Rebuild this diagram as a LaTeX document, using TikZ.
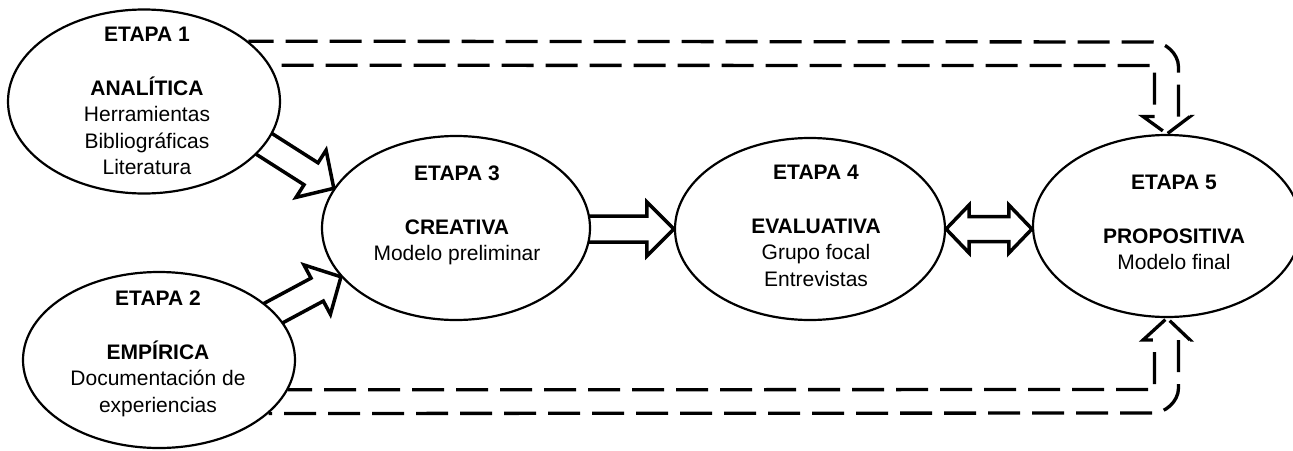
\documentclass[tikz,border=0pt]{standalone}
\usepackage{fontspec}
\setmainfont{Liberation Sans}
\usetikzlibrary{shapes.geometric,calc}
\pgfdeclarelayer{bg}
\pgfsetlayers{bg,main}
% #1 tail, #2 tip, #3 half shaft width, #4 half head width, #5 head length
\newcommand\blockarrow[5]{%
  \path (#2) coordinate (ba-t) (#1) coordinate (ba-s) ($(ba-t)!#5!(ba-s)$) coordinate (ba-n);
  \draw[blk] ($(ba-s)!#3!90:(ba-t)$) -- ($(ba-n)!#3!90:(ba-t)$) -- ($(ba-n)!#4!90:(ba-t)$)
    -- (ba-t) -- ($(ba-n)!#4!-90:(ba-t)$) -- ($(ba-n)!#3!-90:(ba-t)$) -- ($(ba-s)!#3!-90:(ba-t)$);
}
% #1 tip a, #2 tip b, #3 half shaft, #4 half head, #5 head length
\newcommand\dblarrow[5]{%
  \path (#1) coordinate (da-a) (#2) coordinate (da-b)
    ($(da-a)!#5!(da-b)$) coordinate (da-na) ($(da-b)!#5!(da-a)$) coordinate (da-nb);
  \draw[blk] (da-a) -- ($(da-na)!#4!90:(da-b)$) -- ($(da-na)!#3!90:(da-b)$)
    -- ($(da-nb)!#3!-90:(da-a)$) -- ($(da-nb)!#4!-90:(da-a)$) -- (da-b)
    -- ($(da-nb)!#4!90:(da-a)$) -- ($(da-nb)!#3!90:(da-a)$)
    -- ($(da-na)!#3!-90:(da-b)$) -- ($(da-na)!#4!-90:(da-b)$) -- cycle;
}
\begin{document}
\begin{tikzpicture}[x=1pt,y=-1pt,
  stage/.style={ellipse, draw, line width=2.2pt, fill=white, inner sep=0pt},
  txt/.style={anchor=north, inner sep=0pt, align=center, font=\fontsize{21}{26.5}\selectfont},
  blk/.style={line width=3.5pt, line join=miter},
  dsh/.style={line width=3.3pt, dash pattern=on 32pt off 12pt},
  dhead/.style={line width=3.3pt, dash pattern=on 28pt off 6pt on 40pt off 11.5pt, dash phase=74pt}]
\useasboundingbox (0,0) rectangle (1293,450);
\clip (0,0) rectangle (1293,450);

% stages
\node[stage, minimum width=272pt, minimum height=184pt] (e1) at (144,101.5) {};
\node[stage, minimum width=272pt, minimum height=176pt] (e2) at (159,360) {};
\node[stage, minimum width=268pt, minimum height=184pt] (e3) at (456,228) {};
\node[stage, minimum width=270pt, minimum height=182pt] (e4) at (810,229) {};
\node[stage, minimum width=268pt, minimum height=182pt] (e5) at (1167,226) {};

% texts
\node[txt] (t1) at ($(e1.center)+(3,-74.5)$) {\textbf{ETAPA 1}\\[27pt]\textbf{ANALÍTICA}\\Herramientas\\Bibliográficas\\Literatura};
\node[txt] (t2) at ($(e2.center)+(-1,-69)$) {\textbf{ETAPA 2}\\[27pt]\textbf{EMPÍRICA}\\Documentación de\\experiencias};
\node[txt] (t3) at ($(e3.center)+(1,-62.3)$) {\textbf{ETAPA 3}\\[27pt]\textbf{CREATIVA}\\Modelo preliminar};
\node[txt] (t4) at ($(e4.center)+(6,-64)$) {\textbf{ETAPA 4}\\[27pt]\textbf{EVALUATIVA}\\Grupo focal\\Entrevistas};
\node[txt] (t5) at ($(e5.center)+(7,-51)$) {\textbf{ETAPA 5}\\[27pt]\textbf{PROPOSITIVA}\\Modelo final};

\begin{pgfonlayer}{bg}
  % block arrows
  \blockarrow{$(e1.center)+(85,20)$}{e3.162}{13pt}{28pt}{27pt}
  \blockarrow{$(e2.center)+(68,-22)$}{e3.203}{13pt}{28pt}{27pt}
  \blockarrow{$(e4.180)+(-120,0)$}{e4.180}{13pt}{27pt}{27pt}
  \dblarrow{e4.0}{e4.0 -| e5.180}{12.5pt}{24pt}{23pt}
  % dashed hollow arrow E1 -> E5
  \draw[dsh] (1178.5,116.5) -- (1178.5,67) .. controls (1178.5,53.2) and (1164.7,42) .. (1153.5,42) -- (e1.30);
  \draw[dsh, dash phase=32pt] (1154.5,116.5) -- (1154.5,65.5) -- (e1.16);
  \draw[dhead] (1178.5,116.5) -- (1190,116.5) -- (e5.90) -- (1143,116.5) -- (1154.5,116.5);
  % dashed hollow arrow E2 -> E5
  \draw[dsh] (1178.5,340) -- (1178.5,388) .. controls (1178.5,401.8) and (1164.7,413) .. (1153.5,413) -- (e2.-26);
  \draw[dsh, dash phase=32pt] (1154.5,340) -- (1154.5,389.5) -- (e2.-13);
  \draw[dhead] (1178.5,340) -- (1190,340) -- (e5.270) -- (1143,340) -- (1154.5,340);
\end{pgfonlayer}
\end{tikzpicture}
\end{document}
